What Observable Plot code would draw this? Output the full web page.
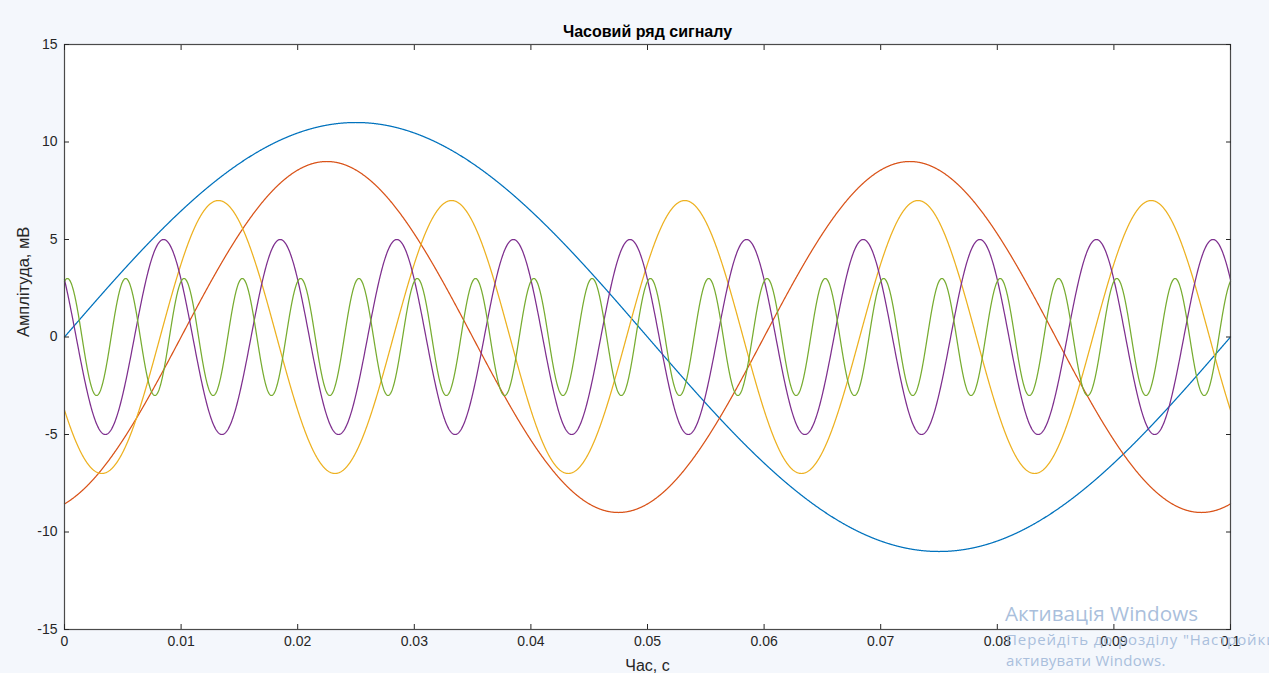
<!DOCTYPE html>
<html>
<head>
<meta charset="utf-8">
<script src="https://cdn.jsdelivr.net/npm/d3@7"></script>
<script src="https://cdn.jsdelivr.net/npm/@observablehq/plot@0.6"></script>
<style>
  html, body { margin: 0; padding: 0; width: 1269px; height: 673px; overflow: hidden; background: #f4f7fc; }
  #chart { position: absolute; left: 0; top: 0; }
  .wm { position: absolute; color: #aabfdc; font-family: "Open Sans", "Noto Sans", sans-serif; white-space: nowrap; }
</style>
</head>
<body>
<div id="chart"></div>
<div class="wm" style="left:1005px; top:599px; font-size:20.7px;">Активація Windows</div>
<div class="wm" style="left:1006px; top:629px; font-size:15px; letter-spacing:0.9px;">Перейдіть до розділу "Настройки", щоб</div>
<div class="wm" style="left:1006px; top:650px; font-size:15px; letter-spacing:0.3px;">активувати Windows.</div>
<script>
// Signal components
const seriesNames = ["s1", "s2", "s3", "s4", "s5"];
const amplitudes = [11, 9, 7, 5, 3];          // mV
const frequencies = [10, 20, 50, 100, 200];   // Hz
const phases = [0, -0.4 * Math.PI, -0.82 * Math.PI, 0.8 * Math.PI, 0.4 * Math.PI]; // rad
const colors = ["#0072BD", "#D95319", "#EDB120", "#7E2F8E", "#77AC30"];
const xTicks = [0, 0.01, 0.02, 0.03, 0.04, 0.05, 0.06, 0.07, 0.08, 0.09, 0.1];
const yTicks = [-15, -10, -5, 0, 5, 10, 15];
const tStart = 0, tEnd = 0.1, nSamples = 3000;

const times = d3.range(nSamples + 1).map(i => tStart + (tEnd - tStart) * i / nSamples);
const rows = [];
seriesNames.forEach((name, k) => {
  for (const t of times) {
    rows.push({series: name, t, v: amplitudes[k] * Math.sin(2 * Math.PI * frequencies[k] * t + phases[k])});
  }
});

const fmtX = d => d === 0 ? "0" : d3.format("~g")(d);
const fmtY = d => String(d);
const font = "'Liberation Sans', Arial, Helvetica, sans-serif";
const blank = () => "";

const chart = Plot.plot({
  width: 1269,
  height: 673,
  marginLeft: 64,
  marginRight: 39,
  marginTop: 44,
  marginBottom: 44,
  style: {background: "transparent", fontFamily: font, fontSize: "14px", color: "#262626"},
  x: {domain: [0, 0.1], axis: null},
  y: {domain: [-15, 15], axis: null},
  color: {domain: seriesNames, range: colors},
  marks: [
    Plot.frame({fill: "white", stroke: null}),
    ...seriesNames.map(name => Plot.line(rows.filter(r => r.series === name), {x: "t", y: "v", stroke: "series", strokeWidth: 1.25})),
    Plot.frame({stroke: "#4a4a4a", strokeWidth: 1.2}),
    Plot.axisX({ticks: xTicks, anchor: "bottom", tickSize: 0, tickPadding: 7, tickFormat: fmtX, fontSize: 14, fill: "#262626", label: null}),
    Plot.axisX({ticks: xTicks, anchor: "bottom", tickSize: -5, tickFormat: blank, stroke: "#262626", label: null}),
    Plot.axisX({ticks: xTicks, anchor: "top", tickSize: -5, tickFormat: blank, stroke: "#262626", label: null}),
    Plot.axisY({ticks: yTicks, anchor: "left", tickSize: 0, tickPadding: 7, tickFormat: fmtY, fontSize: 14, fill: "#262626", label: null}),
    Plot.axisY({ticks: yTicks, anchor: "left", tickSize: -5, tickFormat: blank, stroke: "#262626", label: null}),
    Plot.axisY({ticks: yTicks, anchor: "right", tickSize: -5, tickFormat: blank, stroke: "#262626", label: null}),
    Plot.text(["Часовий ряд сигналу"], {frameAnchor: "top", lineAnchor: "middle", dy: -13, text: d => d, fontWeight: "bold", fontSize: 16, fill: "#000"}),
    Plot.text(["Час, с"], {frameAnchor: "bottom", lineAnchor: "middle", dy: 36, text: d => d, fontSize: 16, fill: "#262626"}),
    Plot.text(["Амплітуда, мВ"], {frameAnchor: "left", dx: -41, rotate: -90, text: d => d, fontSize: 16.5, fill: "#262626"})
  ]
});
document.getElementById("chart").appendChild(chart);
</script>
</body>
</html>
